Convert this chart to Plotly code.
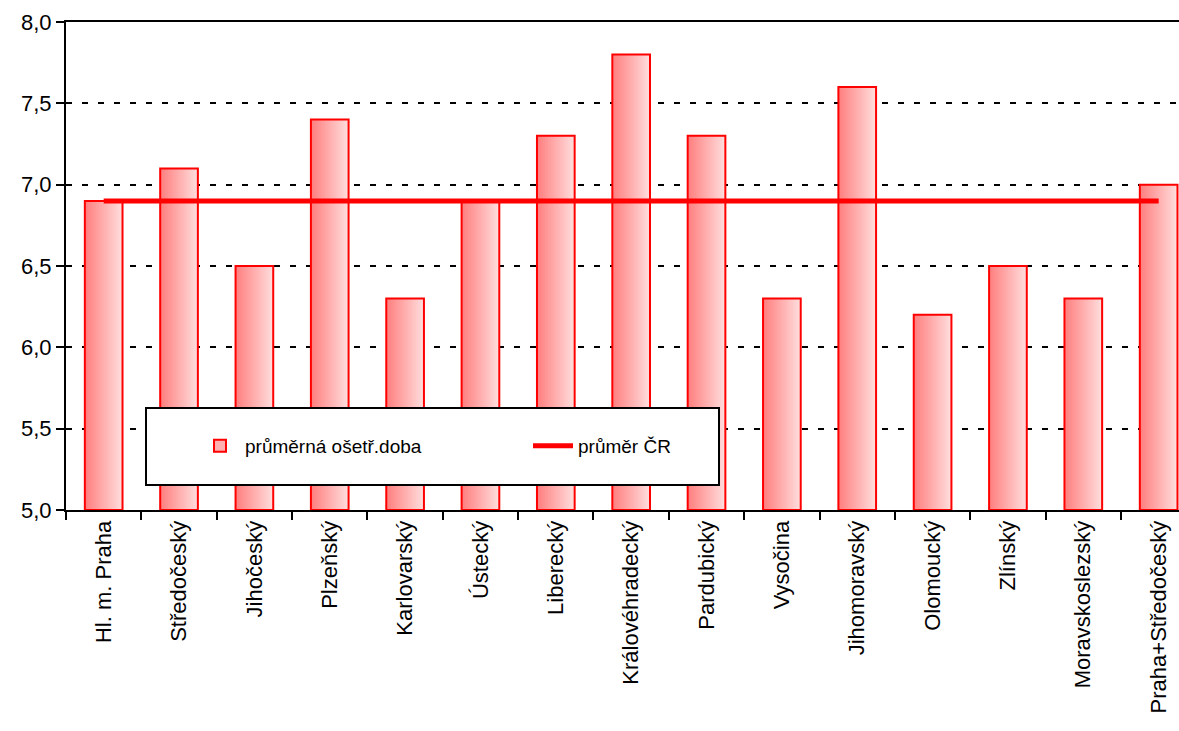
import plotly.graph_objects as go

categories = ["Hl. m. Praha", "Středočeský", "Jihočeský", "Plzeňský", "Karlovarský",
              "Ústecký", "Liberecký", "Královéhradecký", "Pardubický", "Vysočina",
              "Jihomoravský", "Olomoucký", "Zlínský", "Moravskoslezský", "Praha+Středočeský"]
values = [6.9, 7.1, 6.5, 7.4, 6.3, 6.9, 7.3, 7.8, 7.3, 6.3, 7.6, 6.2, 6.5, 6.3, 7.0]
avg_cr = [6.9] * len(categories)
bar_name = "průměrná ošetř.doba"
line_name = "průměr ČR"
y_ticks = [5.0, 5.5, 6.0, 6.5, 7.0, 7.5, 8.0]

FONT = "Liberation Sans, Arial, sans-serif"

fig = go.Figure()

# gradient bars: layered bars, each starting further right and lighter
W = 0.5
N = 24
c0 = (255, 128, 128)
c1 = (255, 220, 220)
base = [v - 5.0 for v in values]
for k in range(N):
    t = k / (N - 1)
    col = "rgb(%d,%d,%d)" % tuple(round(a + (b - a) * t) for a, b in zip(c0, c1))
    fig.add_trace(go.Bar(
        x=categories, y=base, base=5.0,
        width=W - k * W / N, offset=-W / 2 + k * W / N,
        marker=dict(color=col, line=dict(width=0)),
        name=bar_name, showlegend=False, hoverinfo="skip",
    ))
# outline
fig.add_trace(go.Bar(
    x=categories, y=base, base=5.0, width=W, offset=-W / 2,
    marker=dict(color="rgba(0,0,0,0)", line=dict(color="#FF0000", width=2)),
    name=bar_name, showlegend=False,
))
# legend proxy for bars
fig.add_trace(go.Bar(
    x=[None], y=[None], name=bar_name,
    marker=dict(color="#FFB0B0", line=dict(color="#FF0000", width=2)),
    showlegend=True,
))
fig.add_trace(go.Scatter(
    x=categories, y=avg_cr, mode="lines", name=line_name,
    line=dict(color="#FF0000", width=5),
))

# legend frame
fig.add_shape(type="rect", xref="paper", yref="paper",
              x0=(146 - 66) / 1113, x1=(719 - 66) / 1113,
              y0=(510 - 485) / 488, y1=(510 - 408) / 488,
              line=dict(color="black", width=2), fillcolor="white", layer="above")

fig.update_layout(
    width=1179, height=731,
    margin=dict(l=66, r=0, t=22, b=221),
    paper_bgcolor="white", plot_bgcolor="white",
    barmode="overlay",
    separators=", ",
    font=dict(family=FONT, size=22, color="black"),
    showlegend=True,
    legend=dict(orientation="h", x=(195 - 66) / 1113, y=(510 - 446) / 488,
                xanchor="left", yanchor="middle",
                bgcolor="rgba(0,0,0,0)", borderwidth=0,
                font=dict(family=FONT, size=19, color="black"),
                entrywidth=278, itemwidth=40),
    xaxis=dict(type="category", range=[-0.5, 14.27], automargin=False,
               showline=True, linecolor="black", linewidth=2, mirror=True,
               ticks="outside", tickson="boundaries", ticklen=8, tickwidth=2,
               tickcolor="black", tickangle=-90, showgrid=False,
               tickfont=dict(family=FONT, size=22)),
    yaxis=dict(range=[5, 8], tickvals=y_ticks, tickformat=".1f", automargin=False,
               showline=True, linecolor="black", linewidth=2,
               ticks="outside", ticklen=8, tickwidth=2, tickcolor="black",
               showgrid=True, gridcolor="black", gridwidth=2, griddash="6px,10px",
               zeroline=False, tickfont=dict(family=FONT, size=22)),
)

fig.write_html(
    "out.html",
    config={"displayModeBar": False},
    post_script="document.documentElement.style.margin='0';document.body.style.margin='0';"
                "document.body.style.overflow='hidden';",
)
